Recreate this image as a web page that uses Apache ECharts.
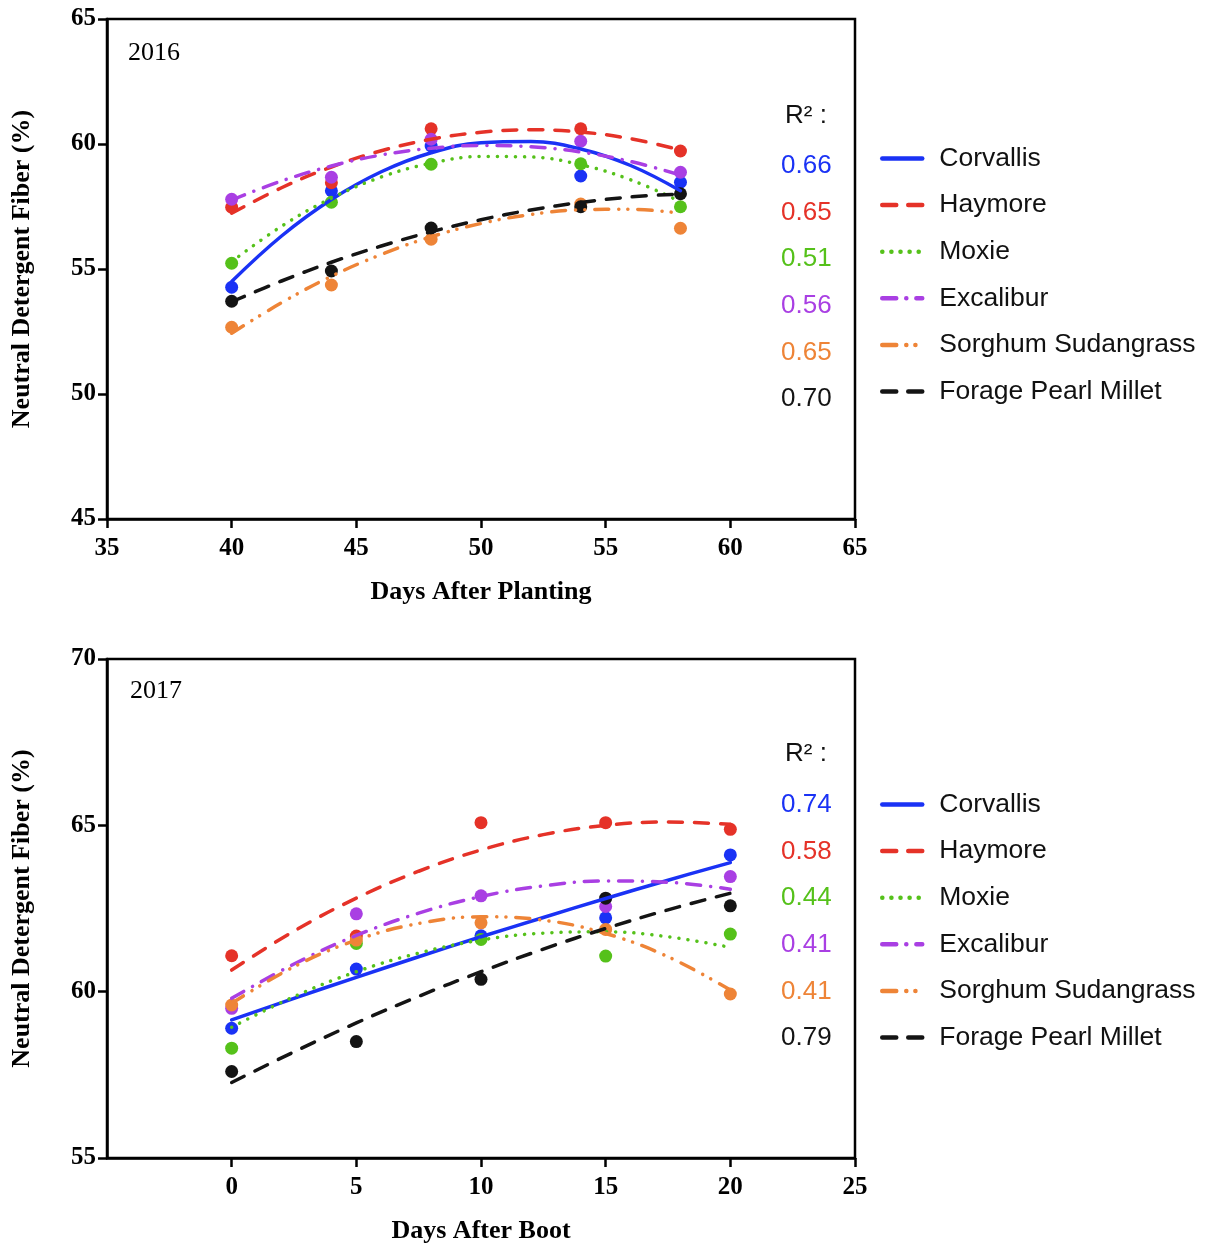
<!DOCTYPE html>
<html>
<head>
<meta charset="utf-8">
<script src="https://cdn.jsdelivr.net/npm/echarts@6/dist/echarts.min.js"></script>
<style>
  html, body { margin: 0; padding: 0; background: #ffffff; }
  #chart { width: 1207px; height: 1247px; }
</style>
</head>
<body>
<div id="chart"></div>
<script>
// ---------- data ----------
var varieties = ['Corvallis', 'Haymore', 'Moxie', 'Excalibur', 'Sorghum Sudangrass', 'Forage Pearl Millet'];
var colors = ['#1a32f5', '#e53228', '#55c11a', '#a93fe3', '#ee8437', '#141414'];

// 2016, days after planting
var days2016 = [40, 44, 48, 54, 58];
var obs2016 = [
  [54.27, 58.13, 59.92, 58.72, 58.47],
  [57.47, 58.45, 60.61, 60.61, 59.72],
  [55.23, 57.67, 59.19, 59.21, 57.49],
  [57.79, 58.67, 60.19, 60.11, 58.87],
  [52.67, 54.36, 56.19, 57.60, 56.63],
  [53.71, 54.92, 56.64, 57.49, 58.01]
];
var fitDays2016 = [40, 42, 44, 46, 48, 50, 52, 54, 56, 58];
var fit2016 = [
  [54.50, 56.32, 57.78, 58.89, 59.65, 60.05, 60.10, 59.80, 59.14, 58.13],
  [57.23, 58.25, 59.08, 59.73, 60.19, 60.47, 60.57, 60.48, 60.21, 59.76],
  [55.29, 56.71, 57.83, 58.68, 59.23, 59.50, 59.48, 59.17, 58.57, 57.69],
  [57.76, 58.52, 59.12, 59.56, 59.83, 59.94, 59.89, 59.68, 59.30, 58.76],
  [52.43, 53.65, 54.71, 55.58, 56.29, 56.82, 57.18, 57.37, 57.39, 57.23],
  [53.69, 54.52, 55.27, 55.92, 56.49, 56.97, 57.36, 57.66, 57.88, 58.00]
];
var r2_2016 = ['0.66', '0.65', '0.51', '0.56', '0.65', '0.70'];

// 2017, days after boot
var days2017 = [0, 5, 10, 15, 20];
var obs2017 = [
  [58.90, 60.68, 61.68, 62.22, 64.11],
  [61.08, 61.67, 65.08, 65.08, 64.88],
  [58.30, 61.45, 61.57, 61.07, 61.73],
  [59.50, 62.34, 62.88, 62.56, 63.46],
  [59.60, 61.55, 62.07, 61.87, 59.93],
  [57.60, 58.50, 60.37, 62.81, 62.58]
];
var fitDays2017 = [0, 2.5, 5, 7.5, 10, 12.5, 15, 17.5, 20];
var fit2017 = [
  [59.15, 59.80, 60.43, 61.05, 61.65, 62.23, 62.80, 63.35, 63.88],
  [60.65, 61.82, 62.81, 63.62, 64.26, 64.72, 65.00, 65.10, 65.03],
  [58.93, 59.85, 60.60, 61.16, 61.55, 61.76, 61.80, 61.65, 61.33],
  [59.80, 60.83, 61.69, 62.36, 62.86, 63.18, 63.33, 63.29, 63.08],
  [59.65, 60.75, 61.55, 62.05, 62.25, 62.15, 61.75, 61.05, 60.05],
  [57.27, 58.19, 59.06, 59.86, 60.60, 61.28, 61.90, 62.46, 62.96]
];
var r2_2017 = ['0.74', '0.58', '0.44', '0.41', '0.41', '0.79'];

// line styles: solid, dashed, dotted, dash-dot, dash-dot-dot, dashed
var dashes = ['solid', [14, 12], [0.1, 9], [14, 10, 0.1, 10], [14, 10, 0.1, 9, 0.1, 10], [14, 12]];

var serif = 'Liberation Serif';
var sans = 'Liberation Sans';

function pairs(xs, ys) {
  return xs.map(function (x, i) { return [x, ys[i]]; });
}

function xAxisCfg(idx, min, max, name, ticks) {
  var ax = {
    gridIndex: idx, type: 'value', min: min, max: max, interval: 5,
    name: name, nameLocation: 'middle', nameGap: 60,
    nameTextStyle: { fontFamily: serif, fontWeight: 'bold', fontSize: 26, color: '#000' },
    axisLine: { onZero: false, lineStyle: { color: '#000', width: 2.5 } },
    axisTick: { length: 9, lineStyle: { color: '#000', width: 2.5 } },
    axisLabel: { margin: 17, fontFamily: serif, fontWeight: 'bold', fontSize: 25, color: '#000' },
    splitLine: { show: false }
  };
  if (ticks) {
    ax.axisTick.customValues = ticks;
    ax.axisLabel.customValues = ticks;
  }
  return ax;
}

function yAxisCfg(idx, min, max) {
  return {
    gridIndex: idx, type: 'value', min: min, max: max, interval: 5,
    name: 'Neutral Detergent Fiber (%)', nameLocation: 'middle', nameGap: 72,
    nameTextStyle: { fontFamily: serif, fontWeight: 'bold', fontSize: 26, color: '#000' },
    axisLine: { onZero: false, lineStyle: { color: '#000', width: 2.5 } },
    axisTick: { length: 9, lineStyle: { color: '#000', width: 2.5 } },
    axisLabel: { margin: 11, fontFamily: serif, fontWeight: 'bold', fontSize: 25, color: '#000' },
    splitLine: { show: false }
  };
}

var series = [];
function addYear(idx, fitX, fits, obsX, obs) {
  varieties.forEach(function (v, i) {
    series.push({
      name: v, type: 'line', xAxisIndex: idx, yAxisIndex: idx,
      data: pairs(fitX, fits[i]), smooth: 0.4, symbol: 'none',
      color: colors[i],
      lineStyle: { color: colors[i], width: 3.5, type: dashes[i], cap: 'round' },
      z: 3
    });
    series.push({
      name: v + ' obs', type: 'scatter', xAxisIndex: idx, yAxisIndex: idx,
      data: pairs(obsX, obs[i]), symbol: 'circle', symbolSize: 13,
      itemStyle: { color: colors[i], opacity: 1 }, z: 2
    });
  });
}
addYear(0, fitDays2016, fit2016, days2016, obs2016);
addYear(1, fitDays2017, fit2017, days2017, obs2017);

function legendCfg(top) {
  return {
    data: varieties, orient: 'vertical', left: 880, top: top,
    padding: 0, itemWidth: 40, itemHeight: 14, itemGap: 19.6,
    selectedMode: false,
    itemStyle: { opacity: 0 },
    lineStyle: { width: 4.5 },
    textStyle: { fontFamily: sans, fontSize: 26.5, color: '#111', lineHeight: 26, padding: [0, 0, 0, 12] }
  };
}

var graphics = [];
function addR2(headerY, firstY, step, vals) {
  graphics.push({
    type: 'text', left: 785, top: headerY - 14,
    style: { text: 'R² :', font: '26px ' + sans, fill: '#111' }
  });
  vals.forEach(function (t, i) {
    graphics.push({
      type: 'text', left: 781, top: firstY + i * step - 14,
      style: { text: t, font: '26px ' + sans, fill: colors[i] }
    });
  });
}
addR2(117, 167, 46.6, r2_2016);
addR2(755, 806, 46.6, r2_2017);

var chart = echarts.init(document.getElementById('chart'));
chart.setOption({
  animation: false,
  backgroundColor: '#fff',
  title: [
    { text: '2016', left: 128, top: 40, padding: 0, textStyle: { fontFamily: serif, fontWeight: 'normal', fontSize: 26, color: '#000' } },
    { text: '2017', left: 130, top: 678, padding: 0, textStyle: { fontFamily: serif, fontWeight: 'normal', fontSize: 26, color: '#000' } }
  ],
  grid: [
    { left: 107, top: 19, width: 748, height: 500, show: true, borderColor: '#000', borderWidth: 2.5, backgroundColor: 'transparent' },
    { left: 107, top: 659, width: 748, height: 499, show: true, borderColor: '#000', borderWidth: 2.5, backgroundColor: 'transparent' }
  ],
  xAxis: [
    xAxisCfg(0, 35, 65, 'Days After Planting'),
    xAxisCfg(1, -5, 25, 'Days After Boot', [0, 5, 10, 15, 20, 25])
  ],
  yAxis: [yAxisCfg(0, 45, 65), yAxisCfg(1, 55, 70)],
  legend: [legendCfg(145), legendCfg(791)],
  graphic: graphics,
  series: series
});
</script>
</body>
</html>
